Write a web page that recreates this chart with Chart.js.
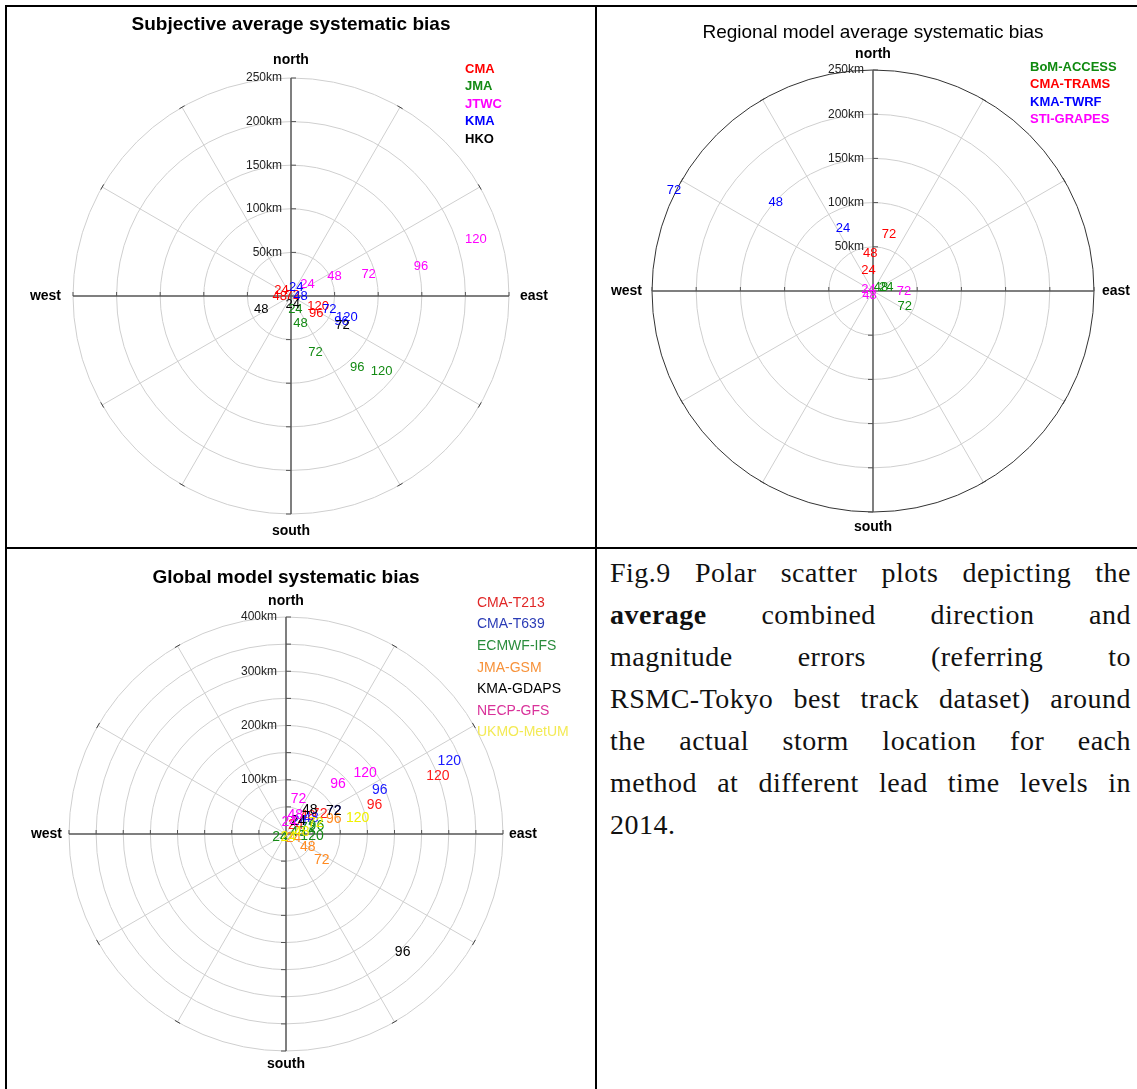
<!DOCTYPE html>
<html>
<head>
<meta charset="utf-8">
<script src="https://cdn.jsdelivr.net/npm/chart.js@4/dist/chart.umd.min.js"></script>
<style>
  body { margin: 0; background: #fff; width: 1137px; height: 1089px; position: relative; overflow: hidden; }
  canvas { position: absolute; }
  .rule { position: absolute; background: #000; }
  #caption { position: absolute; left: 610px; top: 552px; width: 521px;
    font-family: "Liberation Serif", "DejaVu Serif", serif; font-size: 28px; letter-spacing: 0.5px;
    line-height: 42px; color: #111; }
  #caption div { text-align: justify; text-align-last: justify; white-space: nowrap; }
  #caption div.last { text-align-last: left; }
</style>
</head>
<body>
<div class="rule" style="left:5px;top:5px;width:1132px;height:2px"></div>
<div class="rule" style="left:5px;top:5px;width:2px;height:1084px"></div>
<div class="rule" style="left:595px;top:5px;width:2px;height:1084px"></div>
<div class="rule" style="left:5px;top:547px;width:1132px;height:2px"></div>

<canvas id="subj" width="590" height="540" style="left:7px;top:7px"></canvas>
<canvas id="regional" width="540" height="540" style="left:597px;top:7px"></canvas>
<canvas id="global" width="588" height="540" style="left:7px;top:549px"></canvas>

<div id="caption">
  <div>Fig.9 Polar scatter plots depicting the</div>
  <div><b>average</b> combined direction and</div>
  <div>magnitude errors (referring to</div>
  <div>RSMC-Tokyo best track dataset) around</div>
  <div>the actual storm location for each</div>
  <div>method at different lead time levels in</div>
  <div class="last">2014.</div>
</div>

<script>
'use strict';

// Lead times (hours) and positions are [east km, north km] of the mean error

const leadTimes = [24, 48, 72, 96, 120];

// Subjective forecasts
const subjCMA = [[-11, 6], [-13, 0], [2, 1], [29, -20], [31, -12]];
const subjJMA = [[5, -15], [11, -31], [28, -65], [76, -82], [104, -86]];
const subjJTWC = [[19, 13], [50, 23], [89, 25], [149, 34], [212, 65]];
const subjKMA = [[6, 10], [11, 0], [44, -15], [58, -29], [64, -25]];
const subjHKO = [[2, -10], [-34, -15], [59, -34]];
const subjTicks = [50, 100, 150, 200, 250];

// Regional models (24-72h)
const regBoM = [[15, 4], [9, 4], [36, -18]];
const regTRAMS = [[-5, 23], [-3, 43], [18, 64]];
const regTWRF = [[-34, 71], [-110, 100], [-225, 114]];
const regGRAPES = [[-5, 2], [-4, -5], [35, 0]];
const regTicks = [50, 100, 150, 200, 250];

// Global models
const globT213 = [[18, 16], [40, 32], [62, 36], [163, 54], [280, 107]];
const globT639 = [[25, 24], [46, 30], [88, 43], [173, 80], [301, 135]];
const globIFS = [[-11, -5], [22, 4], [40, 10], [56, 15], [48, -4]];
const globGSM = [[14, -8], [40, -25], [66, -49], [88, 27]];
const globGDAPS = [[22, 23], [44, 44], [88, 42], [215, -218]];
const globGFS = [[6, 22], [17, 35], [23, 65], [96, 92], [146, 112]];
const globMetUM = [[4, -6], [29, 4], [55, 20], [132, 29]];
const globTicks = [100, 200, 300, 400];

Chart.defaults.font.family = '"Liberation Sans", Arial, sans-serif';

function series(name, pts, color, leads) {
    return {
        label: name,
        data: pts.map(p => ({x: p[0], y: p[1]})),
        leads: leads || leadTimes,
        color: color,
        pointRadius: 0,
        showLine: false,
        clip: false
    };
}

// draws the polar grid, labels and the lead-time text marks
const polarPlot = {
    id: 'polarPlot',
    beforeDatasetsDraw(chart, args, o) {
        const ctx = chart.ctx;
        const xs = chart.scales.x, ys = chart.scales.y;
        const cx = xs.getPixelForValue(0), cy = ys.getPixelForValue(0);
        const k = xs.getPixelForValue(o.max) - cx;
        const kpx = k / o.max;
        ctx.save();
        ctx.lineWidth = 1;
        ctx.strokeStyle = '#cfcfcf';
        for (let r = o.step; r <= o.max + 0.1; r += o.step) {
            ctx.beginPath();
            ctx.arc(cx, cy, r * kpx, 0, Math.PI * 2);
            ctx.strokeStyle = (r === o.max && o.outer) ? o.outer : '#cfcfcf';
            ctx.stroke();
        }
        for (let a = 30; a < 360; a += 30) {
            if (a % 90 === 0) continue;
            const t = a * Math.PI / 180;
            const ex = cx + k * Math.cos(t), ey = cy - k * Math.sin(t);
            ctx.strokeStyle = '#cfcfcf';
            ctx.beginPath();
            ctx.moveTo(cx, cy);
            ctx.lineTo(ex, ey);
            ctx.stroke();
            ctx.strokeStyle = '#444';
            ctx.beginPath();
            ctx.moveTo(ex - 3 * Math.sin(t), ey - 3 * Math.cos(t));
            ctx.lineTo(ex + 3 * Math.sin(t), ey + 3 * Math.cos(t));
            ctx.stroke();
        }
        // main axes
        ctx.strokeStyle = '#555';
        ctx.lineWidth = 1.5;
        ctx.beginPath();
        ctx.moveTo(cx - k, cy); ctx.lineTo(cx + k, cy);
        ctx.moveTo(cx, cy - k); ctx.lineTo(cx, cy + k);
        ctx.stroke();
        ctx.lineWidth = 1;
        ctx.beginPath();
        for (let r = o.step; r <= o.max + 0.1; r += o.step) {
            const d = r * kpx;
            ctx.moveTo(cx - d, cy - 4); ctx.lineTo(cx - d, cy);
            ctx.moveTo(cx + d, cy - 4); ctx.lineTo(cx + d, cy);
            ctx.moveTo(cx, cy - d); ctx.lineTo(cx + 5, cy - d);
            ctx.moveTo(cx - 5, cy + d); ctx.lineTo(cx, cy + d);
        }
        ctx.stroke();

        // distance labels
        ctx.fillStyle = '#222';
        ctx.font = '12px "Liberation Sans", Arial, sans-serif';
        ctx.textAlign = 'right';
        ctx.textBaseline = 'middle';
        o.ticks.forEach(v => ctx.fillText(v + 'km', cx - 9, cy - v * kpx));

        // compass words
        ctx.fillStyle = '#000';
        ctx.font = 'bold 14px "Liberation Sans", Arial, sans-serif';
        ctx.textAlign = 'center';
        ctx.fillText('north', cx, cy - k - o.gapN);
        ctx.fillText('south', cx, cy + k + o.gapS);
        ctx.textAlign = 'right';
        ctx.fillText('west', cx - k - o.gapW, cy);
        ctx.textAlign = 'left';
        ctx.fillText('east', cx + k + o.gapE, cy);

        // title
        ctx.textAlign = 'center';
        ctx.font = (o.titleBold ? 'bold ' : '') + '19px "Liberation Sans", Arial, sans-serif';
        ctx.fillText(o.title, cx + o.titleDx, o.titleY);

        // legend as coloured words
        ctx.textAlign = 'left';
        ctx.font = o.legendFont;
        chart.data.datasets.forEach((ds, i) => {
            ctx.fillStyle = ds.legendColor || ds.color;
            ctx.fillText(ds.label, o.legendX, o.legendY + i * o.legendStep);
        });
        ctx.restore();
    },
    afterDatasetsDraw(chart, args, o) {
        const ctx = chart.ctx;
        ctx.save();
        ctx.font = o.markFont;
        ctx.textAlign = 'center';
        ctx.textBaseline = 'middle';
        chart.data.datasets.forEach((ds, i) => {
            const meta = chart.getDatasetMeta(i);
            ctx.fillStyle = ds.color;
            meta.data.forEach((pt, j) => ctx.fillText(String(ds.leads[j]), pt.x, pt.y));
        });
        ctx.restore();
    }
};

function makePolar(id, datasets, cx, cy, R, maxKm, plotOpts) {
    const canvas = document.getElementById(id);
    const W = canvas.width, H = canvas.height;
    new Chart(canvas, {
        type: 'scatter',
        data: {datasets: datasets},
        options: {
            responsive: false,
            animation: false,
            devicePixelRatio: 1,
            layout: {padding: {left: cx - R, right: W - cx - R, top: cy - R, bottom: H - cy - R}},
            scales: {
                x: {type: 'linear', min: -maxKm, max: maxKm, display: false},
                y: {type: 'linear', min: -maxKm, max: maxKm, display: false}
            },
            plugins: {
                legend: {display: false},
                tooltip: {enabled: false},
                polarPlot: Object.assign({max: maxKm}, plotOpts)
            }
        },
        plugins: [polarPlot]
    });
}

// Subjective (top left), centre at page (291,296)
makePolar('subj', [
    series('CMA', subjCMA, '#ff0000'),
    series('JMA', subjJMA, '#138a13'),
    series('JTWC', subjJTWC, '#ff00ff'),
    series('KMA', subjKMA, '#0000ff'),
    series('HKO', subjHKO, '#000000', [24, 48, 72])
], 284, 289, 218, 250, {
    step: 50, ticks: subjTicks, outer: null,
    gapN: 18, gapS: 17, gapW: 12, gapE: 11,
    title: 'Subjective average systematic bias', titleBold: true, titleDx: 0, titleY: 18,
    legendX: 458, legendY: 62, legendStep: 17.5,
    legendFont: 'bold 13px "Liberation Sans", Arial, sans-serif',
    markFont: '13px "Liberation Sans", Arial, sans-serif'
});

// Regional (top right), centre at page (873,291)
makePolar('regional', [
    series('BoM-ACCESS', regBoM, '#0f8a0f', [24, 48, 72]),
    series('CMA-TRAMS', regTRAMS, '#ff0000', [24, 48, 72]),
    series('KMA-TWRF', regTWRF, '#0000ff', [24, 48, 72]),
    series('STI-GRAPES', regGRAPES, '#ff00ff', [24, 48, 72])
], 276, 284, 221, 250, {
    step: 50, ticks: regTicks, outer: '#333',
    gapN: 16, gapS: 15, gapW: 10, gapE: 8,
    title: 'Regional model average systematic bias', titleBold: false, titleDx: 0, titleY: 26,
    legendX: 433, legendY: 60, legendStep: 17.5,
    legendFont: 'bold 13px "Liberation Sans", Arial, sans-serif',
    markFont: '13px "Liberation Sans", Arial, sans-serif'
});

const globalSets = [
    series('CMA-T213', globT213, '#ff1a1a'),
    series('CMA-T639', globT639, '#1a1aff'),
    series('ECMWF-IFS', globIFS, '#168c16'),
    series('JMA-GSM', globGSM, '#ff8a20', [24, 48, 72, 96]),
    series('KMA-GDAPS', globGDAPS, '#000000', [24, 48, 72, 96]),
    series('NECP-GFS', globGFS, '#ff00ff'),
    series('UKMO-MetUM', globMetUM, '#f0f000', [24, 48, 72, 120])
];
globalSets[0].legendColor = '#e02727';
globalSets[1].legendColor = '#2b3cb6';
globalSets[2].legendColor = '#2a8c3c';
globalSets[3].legendColor = '#f7923a';
globalSets[5].legendColor = '#d9329a';
globalSets[6].legendColor = '#f3ea55';

// Global (bottom left), centre at page (286,834)
makePolar('global', globalSets, 279, 285, 217, 400, {
    step: 50, ticks: globTicks, outer: null,
    gapN: 16, gapS: 13, gapW: 7, gapE: 6,
    title: 'Global model systematic bias', titleBold: true, titleDx: 0, titleY: 29,
    legendX: 470, legendY: 54, legendStep: 21.6,
    legendFont: '14px "Liberation Sans", Arial, sans-serif',
    markFont: '14px "Liberation Sans", Arial, sans-serif'
});
</script>
</body>
</html>
